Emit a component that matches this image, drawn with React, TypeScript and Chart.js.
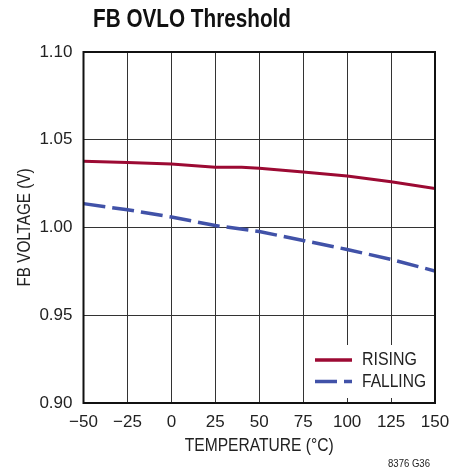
import React, { useEffect, useRef } from "react";
import { Chart, registerables } from "chart.js";

Chart.register(...registerables);

const risingTemps = [-50, -25, 0, 25, 40, 50, 75, 100, 125, 150];
const risingVolts = [1.0377, 1.037, 1.0362, 1.0343, 1.0343, 1.0337, 1.0316, 1.0293, 1.0261, 1.0222];
const fallingTemps = [-50, -25, 0, 25, 50, 75, 100, 125, 150];
const fallingVolts = [1.0136, 1.0101, 1.006, 1.0011, 0.9977, 0.9926, 0.9875, 0.9818, 0.9752];
const xTicks = [-50, -25, 0, 25, 50, 75, 100, 125, 150];
const yTicks = [0.9, 0.95, 1.0, 1.05, 1.1];

const FONT = '"Liberation Sans Narrow", "Liberation Sans", Arial, sans-serif';
const RED = "#9c0a33";
const BLUE = "#4152a8";

function narrowText(ctx: any, text: string, x: number, y: number, width: number, align: string) {
  const w = ctx.measureText(text).width;
  const s = width / w;
  ctx.save();
  ctx.translate(x, y);
  ctx.scale(s, 1);
  ctx.textAlign = align;
  ctx.fillText(text, 0, 0);
  ctx.restore();
}

const textPlugin = {
  id: "texts",
  afterDraw(chart: any) {
    const ctx = chart.ctx;
    const a = chart.chartArea;
    ctx.save();
    // frame
    ctx.strokeStyle = "#111";
    ctx.lineWidth = 2;
    ctx.strokeRect(a.left, a.top, a.right - a.left, a.bottom - a.top);
    // legend
    ctx.fillStyle = "#fff";
    ctx.fillRect(308, 345, 124, 53);
    ctx.lineWidth = 3.5;
    ctx.strokeStyle = RED;
    ctx.beginPath();
    ctx.moveTo(315, 360);
    ctx.lineTo(352, 360);
    ctx.stroke();
    ctx.strokeStyle = BLUE;
    ctx.setLineDash([22, 7]);
    ctx.beginPath();
    ctx.moveTo(315, 381.5);
    ctx.lineTo(352, 381.5);
    ctx.stroke();
    ctx.setLineDash([]);
    ctx.fillStyle = "#222";
    ctx.font = `18px ${FONT}`;
    ctx.textBaseline = "middle";
    narrowText(ctx, "RISING", 362, 360, 55, "left");
    narrowText(ctx, "FALLING", 362, 382, 64, "left");
    // title
    ctx.font = `bold 25px ${FONT}`;
    ctx.fillStyle = "#111";
    narrowText(ctx, "FB OVLO Threshold", 93, 20, 198, "left");
    // x title
    ctx.font = `18px ${FONT}`;
    ctx.fillStyle = "#222";
    narrowText(ctx, "TEMPERATURE (°C)", (a.left + a.right) / 2, 446, 149, "center");
    // y title
    ctx.save();
    ctx.translate(25, (a.top + a.bottom) / 2);
    ctx.rotate(-Math.PI / 2);
    narrowText(ctx, "FB VOLTAGE (V)", 0, 0, 118, "center");
    ctx.restore();
    // footer
    ctx.font = `10px ${FONT}`;
    narrowText(ctx, "8376 G36", 430, 464, 42, "right");
    ctx.restore();
  },
};

export default function App() {
  const ref = useRef<HTMLCanvasElement | null>(null);
  useEffect(() => {
    document.body.style.margin = "0";
    const chart = new Chart(ref.current!, {
      type: "line",
      data: {
        datasets: [
          {
            label: "RISING",
            data: risingTemps.map((t, i) => ({ x: t, y: risingVolts[i] })),
            borderColor: RED,
            borderWidth: 3,
            pointRadius: 0,
            tension: 0,
          },
          {
            label: "FALLING",
            data: fallingTemps.map((t, i) => ({ x: t, y: fallingVolts[i] })),
            borderColor: BLUE,
            borderWidth: 3.5,
            borderDash: [22, 7],
            pointRadius: 0,
            tension: 0,
          },
        ],
      },
      options: {
        animation: false,
        responsive: false,
        layout: { padding: { top: 52, right: 29, left: 0, bottom: 0 } },
        plugins: { legend: { display: false }, tooltip: { enabled: false } },
        scales: {
          x: {
            type: "linear",
            min: -50,
            max: 150,
            afterBuildTicks: (s: any) => {
              s.ticks = xTicks.map((v) => ({ value: v }));
            },
            afterFit: (s: any) => {
              s.height = 66;
            },
            grid: { color: "#333", lineWidth: 1, drawTicks: false },
            border: { display: false },
            ticks: {
              padding: 9,
              color: "#222",
              font: { family: FONT, size: 17 },
              maxRotation: 0,
              callback: (v: any) => (Number(v) < 0 ? "\u2212" + Math.abs(Number(v)) : String(v)),
            },
          },
          y: {
            type: "linear",
            min: 0.9,
            max: 1.1,
            afterBuildTicks: (s: any) => {
              s.ticks = yTicks.map((v) => ({ value: v }));
            },
            afterFit: (s: any) => {
              s.width = 83.5;
            },
            grid: { color: "#333", lineWidth: 1, drawTicks: false },
            border: { display: false },
            ticks: {
              padding: 11,
              color: "#222",
              font: { family: FONT, size: 17 },
              callback: (v: any) => Number(v).toFixed(2),
            },
          },
        },
      },
      plugins: [textPlugin],
    });
    return () => chart.destroy();
  }, []);
  return <canvas ref={ref} width={464} height={469} style={{ display: "block" }} />;
}
